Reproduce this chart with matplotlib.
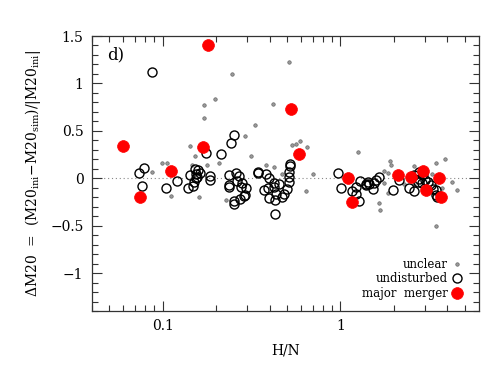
"""H/N vs Delta M20 scatter, panel d."""

import matplotlib

matplotlib.use("Agg")
import matplotlib.pyplot as plt
import numpy as np
from matplotlib.ticker import FixedLocator, NullFormatter, MultipleLocator

plt.rcParams["font.family"] = ["DejaVu Serif"]
plt.rcParams["mathtext.fontset"] = "dejavuserif"

# undisturbed (open circles)
undist_hn = [0.087, 0.074, 0.079, 0.077, 0.104, 0.120, 0.139, 0.143, 0.148, 0.151,
             0.155, 0.155, 0.158, 0.157, 0.163, 0.153, 0.176, 0.185, 0.185, 0.213,
             0.236, 0.236, 0.236, 0.242, 0.252, 0.260, 0.268, 0.262, 0.280, 0.276,
             0.294, 0.289, 0.286, 0.271, 0.252, 0.252, 0.343, 0.343, 0.382, 0.399,
             0.424, 0.422, 0.450, 0.374, 0.392, 0.434, 0.395, 0.428, 0.470, 0.484,
             0.504, 0.514, 0.517, 0.514, 0.520, 0.520, 0.428, 0.968, 1.009, 1.16,
             1.224, 1.274, 1.22, 1.295, 1.387, 1.387, 1.431, 1.44, 1.532, 1.552,
             1.587, 1.641, 1.985, 2.144, 2.441, 2.604, 2.725, 2.78, 2.86, 3.00,
             3.11, 3.234, 3.30, 3.43, 3.46, 3.475, 2.925, 2.78, 2.604]
undist_dm = [1.12, 0.06, 0.11, -0.08, -0.10, -0.03, -0.10, 0.04, -0.08, -0.04,
             0.05, 0.00, 0.085, 0.015, 0.06, 0.095, 0.266, 0.02, -0.014, 0.255,
             0.03, -0.074, -0.09, 0.372, 0.453, 0.056, 0.02, -0.028, -0.05, -0.092,
             -0.10, -0.172, -0.19, -0.216, -0.237, -0.266, 0.066, 0.053, 0.049, 0.003,
             -0.049, -0.092, -0.056, -0.119, -0.098, -0.168, -0.203, -0.232, -0.197, -0.168,
             -0.108, -0.039, 0.016, 0.068, 0.126, 0.153, -0.379, 0.058, -0.098, -0.135,
             -0.168, -0.24, -0.092, -0.028, -0.056, -0.074, -0.039, -0.058, -0.108, -0.049,
             -0.021, 0.014, -0.126, -0.021, -0.10, -0.135, -0.039, -0.003, -0.049, -0.021,
             -0.039, -0.074, -0.108, -0.126, -0.18, -0.197, 0.049, 0.066, 0.032]

# unclear (small grey dots)
unclear_hn = [0.087, 0.099, 0.106, 0.111, 0.143, 0.153, 0.161, 0.170, 0.170, 0.178,
              0.196, 0.207, 0.246, 0.290, 0.1465, 0.512, 0.417, 0.333, 0.316, 0.535,
              0.562, 0.590, 0.648, 0.383, 0.422, 0.698, 0.641, 0.228, 1.25, 1.89,
              1.93, 1.76, 1.86, 1.767, 1.845, 1.641, 1.67, 2.055, 2.586, 3.44,
              3.89, 3.43, 3.74, 4.22, 4.51, 2.268, 2.604, 3.275, 0.47]
unclear_dm = [0.07, 0.165, 0.165, -0.184, 0.342, 0.235, -0.195, 0.768, 0.639, 0.14,
              0.832, 0.165, 1.095, 0.445, 0.137, 1.224, 0.779, 0.565, 0.232, 0.347,
              0.358, 0.389, 0.328, 0.144, 0.123, 0.042, -0.137, -0.232, 0.279, 0.182,
              0.144, 0.074, 0.056, -0.045, -0.158, -0.26, -0.337, 0.049, 0.126, 0.165,
              0.207, -0.502, -0.102, -0.039, -0.126, -0.063, -0.066, 0.049, 0.049]

# major merger (red filled)
merger_hn = [0.0596, 0.075, 0.111, 0.168, 0.180, 0.528, 0.583, 1.11, 1.17, 2.10,
             2.50, 2.90, 3.05, 3.61, 3.69]
merger_dm = [0.34, -0.20, 0.074, 0.33, 1.40, 0.726, 0.26, 0.003, -0.25, 0.03,
             0.01, 0.075, -0.125, 0.0, -0.20]

fig = plt.figure(figsize=(4.91, 3.79), dpi=100)
ax = fig.add_axes([0.187, 0.179, 0.788, 0.726])

ax.axhline(0.0, color="#888888", lw=0.8, ls=(0, (1, 2.5)), zorder=1)
ax.plot(unclear_hn, unclear_dm, "o", ms=2.5, mfc="#9a9a9a", mec="#666666", mew=0.5, zorder=2)
ax.plot(undist_hn, undist_dm, "o", ms=6.5, mfc="none", mec="black", mew=1.0, zorder=3)
ax.plot(merger_hn, merger_dm, "o", ms=8.5, mfc="#ff0000", mec="#ff0000", mew=0.5, zorder=4)

ax.set_xscale("log")
ax.set_xlim(0.04, 6.0)
ax.set_ylim(-1.4, 1.5)

ax.xaxis.set_major_locator(FixedLocator([0.1, 1.0]))
ax.xaxis.set_minor_locator(FixedLocator(
    [0.04, 0.05, 0.06, 0.07, 0.08, 0.09, 0.2, 0.3, 0.4, 0.5, 0.6, 0.7, 0.8, 0.9,
     2, 3, 4, 5]))
ax.xaxis.set_minor_formatter(NullFormatter())
ax.set_xticklabels(["0.1", "1"])
ax.yaxis.set_major_locator(MultipleLocator(0.5))
ax.yaxis.set_minor_locator(MultipleLocator(0.1))
ax.set_yticks([-1, -0.5, 0, 0.5, 1, 1.5])
ax.set_yticklabels(["\u22121", "\u22120.5", "0", "0.5", "1", "1.5"])

ax.tick_params(which="both", direction="in", top=True, right=True, labelsize=10,
               color="#333333", width=0.8)
ax.tick_params(which="major", length=7, pad=6)
ax.tick_params(which="minor", length=4)
for spine in ax.spines.values():
    spine.set_color("#333333")
    spine.set_linewidth(0.9)

ax.set_xlabel("H/N", fontsize=10, labelpad=7)
ax.set_ylabel(r"$\Delta$M20  =  (M20$_{\rm ini}$$-$M20$_{\rm sim}$)/|M20$_{\rm ini}$|",
              fontsize=10, labelpad=5)
ax.text(0.04, 0.93, "d)", transform=ax.transAxes, fontsize=12, va="center", ha="left")

legend_rows = [("unclear", 0.171), ("undisturbed", 0.12), ("major  merger", 0.065)]
styles = [dict(ms=2.5, mfc="#9a9a9a", mec="#666666", mew=0.5),
          dict(ms=6.5, mfc="none", mec="black", mew=1.0),
          dict(ms=8.5, mfc="#ff0000", mec="#ff0000", mew=0.5)]
for (label, ypos), style in zip(legend_rows, styles):
    ax.text(0.92, ypos, label, transform=ax.transAxes, fontsize=8.5, ha="right", va="center")
    ax.plot([0.943], [ypos], "o", transform=ax.transAxes, clip_on=False, **style)

fig.savefig("out.png", dpi=100)
